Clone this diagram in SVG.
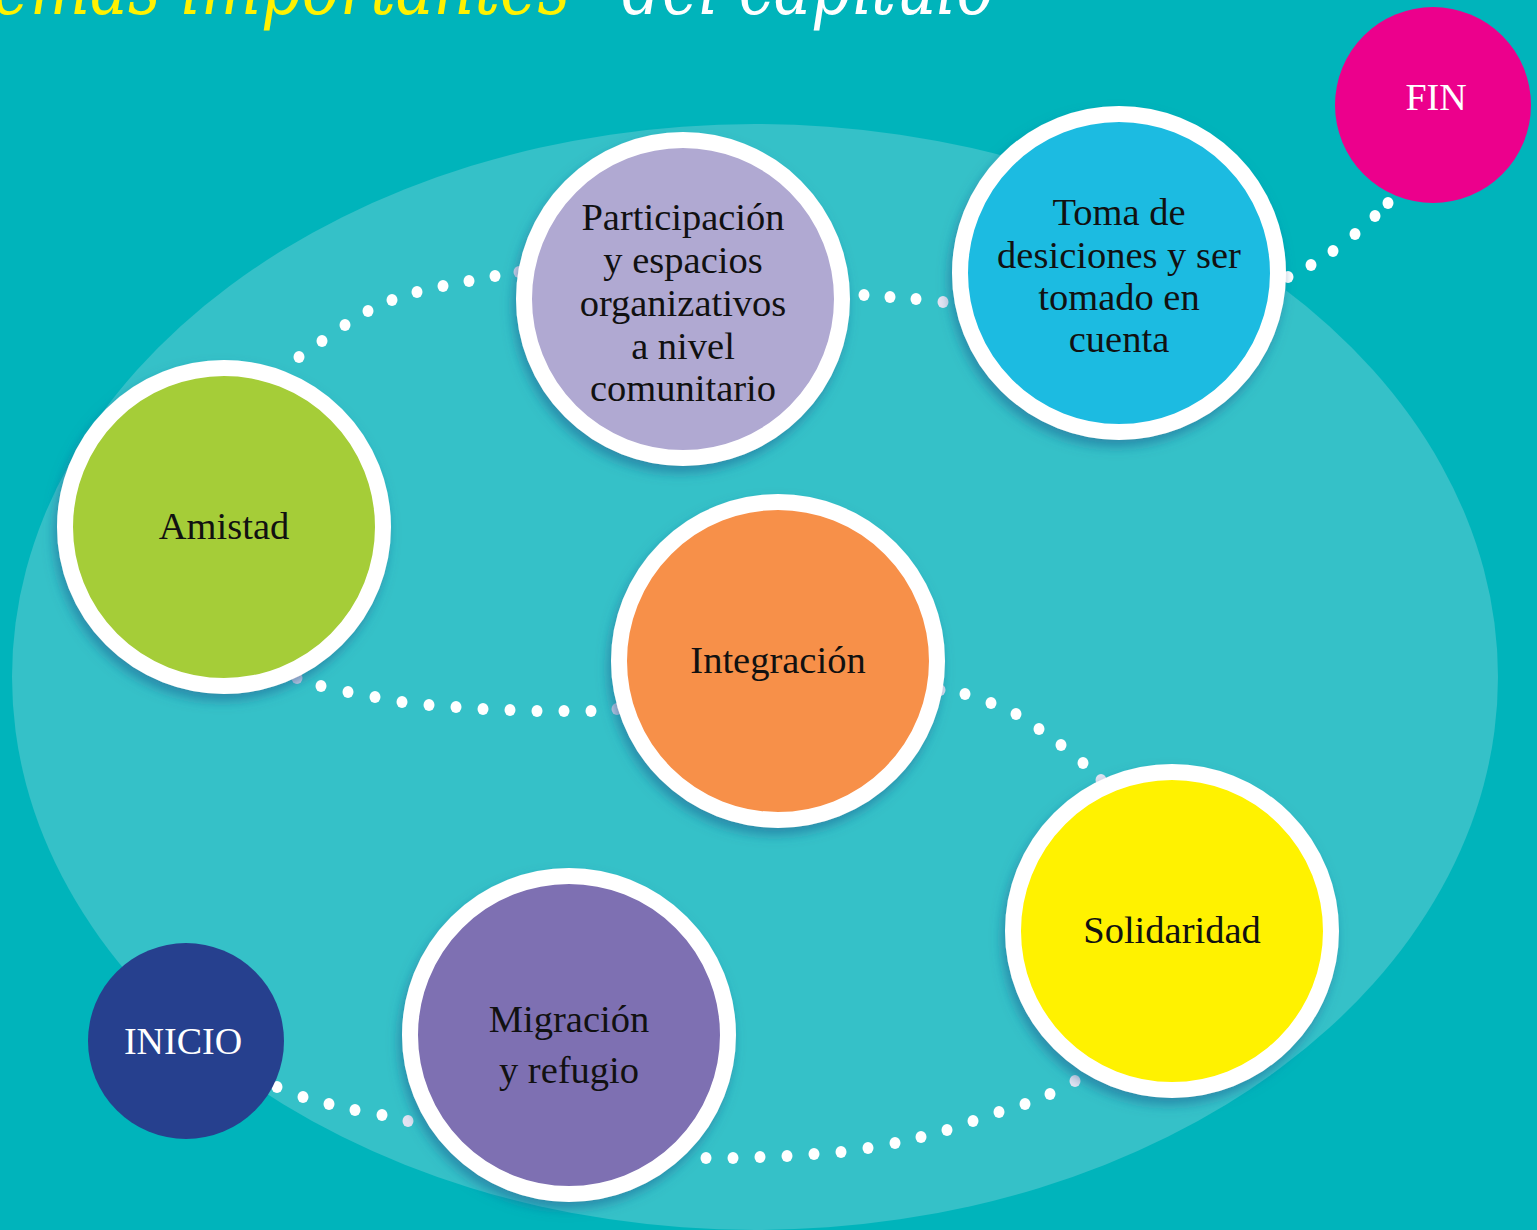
<svg xmlns="http://www.w3.org/2000/svg" width="1537" height="1230" viewBox="0 0 1537 1230">
<style>
.ring{stroke:#fff;stroke-width:16;filter:url(#sh)}
.lbl{font-family:"Liberation Serif","DejaVu Serif",serif;font-size:38.5px;fill:#111;text-anchor:middle}
.wl{font-family:"Liberation Serif","DejaVu Serif",serif;font-size:38px;fill:#fff;text-anchor:middle}
.dot{fill:#fff}
.title{font-family:"DejaVu Serif",serif;font-style:italic;font-size:78px}
</style>
<defs>
<filter id="sh" x="-20%" y="-20%" width="140%" height="140%">
<feDropShadow dx="-3" dy="7" stdDeviation="6" flood-color="#1d5f92" flood-opacity="0.55"/>
</filter>
</defs>
<rect width="1537" height="1230" fill="#00B4BB"/>
<ellipse cx="755" cy="677" rx="743" ry="553" fill="#35C1C8"/>
<text class="title" x="-45" y="14" fill="#FFF200" textLength="615" lengthAdjust="spacingAndGlyphs">Temas importantes</text>
<text class="title" x="622" y="14" fill="#fff" textLength="372" lengthAdjust="spacingAndGlyphs">del capítulo</text>
<g id="connectors">
<g class="dot">
<ellipse cx="299" cy="357" rx="5.5" ry="6"/><ellipse cx="322" cy="341" rx="5.5" ry="6"/><ellipse cx="345" cy="325" rx="5.5" ry="6"/><ellipse cx="368" cy="311" rx="5.5" ry="6"/><ellipse cx="392" cy="300" rx="5.5" ry="6"/><ellipse cx="417" cy="292" rx="5.5" ry="6"/><ellipse cx="443" cy="286" rx="5.5" ry="6"/><ellipse cx="469" cy="281" rx="5.5" ry="6"/><ellipse cx="495" cy="276" rx="5.5" ry="6"/><ellipse cx="519" cy="272" rx="5.5" ry="6" fill="#d8d8ec"/>
<ellipse cx="864" cy="295" rx="5.5" ry="6"/><ellipse cx="890" cy="297" rx="5.5" ry="6"/><ellipse cx="916" cy="299" rx="5.5" ry="6"/><ellipse cx="943" cy="302" rx="5.5" ry="6" fill="#e4e4f2"/>
<ellipse cx="1288" cy="277" rx="5.5" ry="6"/><ellipse cx="1311" cy="265" rx="5.5" ry="6"/><ellipse cx="1333" cy="251" rx="5.5" ry="6"/><ellipse cx="1355" cy="234" rx="5.5" ry="6"/><ellipse cx="1375" cy="216" rx="5.5" ry="6"/><ellipse cx="1388" cy="203" rx="5.5" ry="6"/>
<ellipse cx="297" cy="678" rx="5.5" ry="6" fill="#cfd2ea"/><ellipse cx="321" cy="686" rx="5.5" ry="6"/><ellipse cx="348" cy="692" rx="5.5" ry="6"/><ellipse cx="375" cy="697" rx="5.5" ry="6"/><ellipse cx="402" cy="702" rx="5.5" ry="6"/><ellipse cx="429" cy="705" rx="5.5" ry="6"/><ellipse cx="456" cy="707" rx="5.5" ry="6"/><ellipse cx="483" cy="709" rx="5.5" ry="6"/><ellipse cx="510" cy="710" rx="5.5" ry="6"/><ellipse cx="537" cy="711" rx="5.5" ry="6"/><ellipse cx="564" cy="711" rx="5.5" ry="6"/><ellipse cx="591" cy="711" rx="5.5" ry="6"/><ellipse cx="617" cy="709" rx="5.5" ry="6" fill="#cfd2ea"/>
<ellipse cx="940" cy="690" rx="5.5" ry="6" fill="#e4e4f2"/><ellipse cx="965" cy="694" rx="5.5" ry="6"/><ellipse cx="991" cy="703" rx="5.5" ry="6"/><ellipse cx="1016" cy="714" rx="5.5" ry="6"/><ellipse cx="1039" cy="729" rx="5.5" ry="6"/><ellipse cx="1061" cy="745" rx="5.5" ry="6"/><ellipse cx="1083" cy="763" rx="5.5" ry="6"/><ellipse cx="1101" cy="780" rx="5.5" ry="6" fill="#e4e4f2"/>
<ellipse cx="277" cy="1087" rx="5.5" ry="6"/><ellipse cx="303" cy="1097" rx="5.5" ry="6"/><ellipse cx="329" cy="1104" rx="5.5" ry="6"/><ellipse cx="355" cy="1110" rx="5.5" ry="6"/><ellipse cx="382" cy="1115" rx="5.5" ry="6"/><ellipse cx="408" cy="1121" rx="5.5" ry="6" fill="#e4e4f2"/>
<ellipse cx="706" cy="1158" rx="5.5" ry="6"/><ellipse cx="733" cy="1158" rx="5.5" ry="6"/><ellipse cx="760" cy="1157" rx="5.5" ry="6"/><ellipse cx="787" cy="1156" rx="5.5" ry="6"/><ellipse cx="814" cy="1154" rx="5.5" ry="6"/><ellipse cx="841" cy="1152" rx="5.5" ry="6"/><ellipse cx="868" cy="1148" rx="5.5" ry="6"/><ellipse cx="895" cy="1143" rx="5.5" ry="6"/><ellipse cx="921" cy="1137" rx="5.5" ry="6"/><ellipse cx="947" cy="1130" rx="5.5" ry="6"/><ellipse cx="973" cy="1121" rx="5.5" ry="6"/><ellipse cx="999" cy="1112" rx="5.5" ry="6"/><ellipse cx="1025" cy="1104" rx="5.5" ry="6"/><ellipse cx="1050" cy="1094" rx="5.5" ry="6"/><ellipse cx="1075" cy="1081" rx="5.5" ry="6" fill="#e4e4f2"/>
</g>
</g>
<g id="participacion">
<circle class="ring" cx="683" cy="299" r="159" fill="#B0A9D2"/>
<text class="lbl"><tspan x="683" y="230">Participación</tspan><tspan x="683" y="273">y espacios</tspan><tspan x="683" y="316">organizativos</tspan><tspan x="683" y="359">a nivel</tspan><tspan x="683" y="401">comunitario</tspan></text>
</g>
<g id="toma">
<circle class="ring" cx="1119" cy="273" r="159" fill="#1FBBE1"/>
<text class="lbl"><tspan x="1119" y="225">Toma de</tspan><tspan x="1119" y="268">desiciones y ser</tspan><tspan x="1119" y="310">tomado en</tspan><tspan x="1119" y="352">cuenta</tspan></text>
</g>
<g id="amistad">
<circle class="ring" cx="224" cy="527" r="159" fill="#A5CD39"/>
<text class="lbl" x="224" y="539">Amistad</text>
</g>
<g id="integracion">
<circle class="ring" cx="778" cy="661" r="159" fill="#F7904A"/>
<text class="lbl" x="778" y="673">Integración</text>
</g>
<g id="solidaridad">
<circle class="ring" cx="1172" cy="931" r="159" fill="#FFF200"/>
<text class="lbl" x="1172" y="943">Solidaridad</text>
</g>
<g id="migracion">
<circle class="ring" cx="569" cy="1035" r="159" fill="#7E70B2"/>
<text class="lbl"><tspan x="569" y="1032">Migración</tspan><tspan x="569" y="1083">y refugio</tspan></text>
</g>
<g id="inicio">
<circle cx="186" cy="1041" r="98" fill="#26408E"/>
<text class="wl" x="183" y="1054">INICIO</text>
</g>
<g id="fin">
<circle cx="1433" cy="105" r="98" fill="#EC008C"/>
<text class="wl" x="1436" y="110">FIN</text>
</g>
</svg>
